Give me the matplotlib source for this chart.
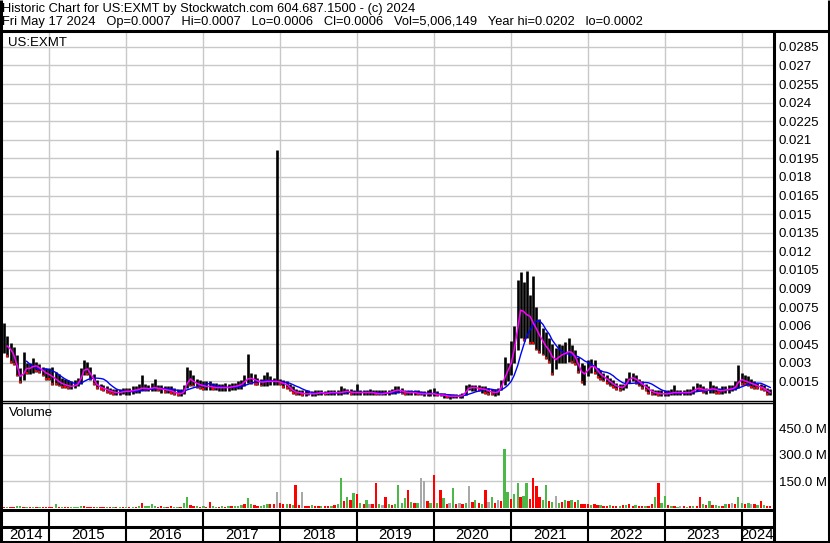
import pandas as pd
import matplotlib
matplotlib.use('Agg')
import matplotlib.pyplot as plt
from matplotlib.lines import Line2D

plt.rcParams['font.family'] = ['Liberation Sans', 'DejaVu Sans']

# semi-monthly bars, Jun 2014 .. May 2024
dates = pd.date_range('2014-06-01', '2024-05-15', freq='SMS')

hi_2014 = [.0062, .0052, .0046, .0043, .0036, .0026, .0039, .0030, .0030, .0034, .0031, .0029, .0027, .0026]
lo_2014 = [.0038, .0035, .0030, .0028, .0019, .0014, .0016, .0021, .0021, .0022, .0023, .0022, .0019, .0016]
cl_2014 = [.0045, .0042, .0040, .0034, .0022, .0016, .0026, .0025, .0026, .0028, .0027, .0025, .0023, .0021]

hi_2015 = [.0026, .0027, .0023, .0021, .0018, .0017, .0016, .0015, .0016, .0018, .0026, .0032,
           .0031, .0027, .0021, .0016, .0013, .0012, .0011, .0010, .0009, .0009, .0009, .0010]
lo_2015 = [.0016, .0012, .0012, .0011, .0010, .0010, .0009, .0009, .0010, .0011, .0013, .0020,
           .0020, .0016, .0012, .0009, .0008, .0007, .0006, .0005, .0004, .0004, .0004, .0005]
cl_2015 = [.0020, .0018, .0016, .0014, .0013, .0012, .0011, .0011, .0012, .0013, .0022, .0026,
           .0024, .0019, .0014, .0011, .0010, .0009, .0008, .0007, .0006, .0006, .0006, .0007]

hi_2016 = [.0010, .0010, .0011, .0011, .0013, .0020, .0013, .0012, .0014, .0017, .0012, .0012,
           .0011, .0011, .0011, .0010, .0009, .0009, .0012, .0027, .0024, .0020, .0017, .0016]
lo_2016 = [.0004, .0004, .0005, .0006, .0006, .0007, .0007, .0007, .0007, .0007, .0007, .0006,
           .0006, .0006, .0005, .0004, .0003, .0003, .0005, .0010, .0011, .0011, .0010, .0009]
cl_2016 = [.0007, .0007, .0008, .0008, .0009, .0010, .0009, .0009, .0010, .0010, .0009, .0009,
           .0008, .0008, .0007, .0006, .0005, .0005, .0008, .0018, .0016, .0014, .0013, .0012]

hi_2017 = [.0015, .0015, .0015, .0014, .0014, .0013, .0013, .0014, .0013, .0014, .0014, .0015,
           .0016, .0020, .0037, .0022, .0021, .0018, .0017, .0020, .0023, .0019, .0018, .0202]
lo_2017 = [.0008, .0008, .0008, .0008, .0008, .0007, .0007, .0007, .0007, .0008, .0008, .0009,
           .0009, .0011, .0014, .0013, .0012, .0012, .0011, .0011, .0011, .0012, .0012, .0012]
cl_2017 = [.0011, .0011, .0011, .0010, .0010, .0010, .0010, .0010, .0010, .0011, .0011, .0012,
           .0013, .0016, .0018, .0017, .0016, .0015, .0014, .0015, .0015, .0015, .0015, .0015]

hi_2018 = [.0017, .0016, .0015, .0013, .0011, .0009, .0008, .0008, .0008, .0008, .0007, .0008,
           .0008, .0008, .0007, .0008, .0008, .0008, .0008, .0011, .0010, .0009, .0009, .0008]
lo_2018 = [.0012, .0010, .0009, .0007, .0005, .0004, .0004, .0003, .0003, .0004, .0003, .0003,
           .0004, .0004, .0004, .0004, .0004, .0004, .0004, .0004, .0005, .0005, .0004, .0004]
cl_2018 = [.0014, .0013, .0012, .0009, .0007, .0006, .0006, .0005, .0005, .0005, .0005, .0005,
           .0006, .0006, .0005, .0006, .0006, .0006, .0006, .0006, .0007, .0007, .0006, .0006]

hi_2019 = [.0013, .0008, .0008, .0008, .0009, .0008, .0008, .0008, .0008, .0008, .0008, .0009,
           .0011, .0011, .0010, .0008, .0008, .0008, .0008, .0008, .0007, .0007, .0008, .0009]
lo_2019 = [.0004, .0004, .0004, .0004, .0004, .0004, .0004, .0004, .0004, .0004, .0004, .0005,
           .0005, .0006, .0005, .0004, .0004, .0004, .0004, .0004, .0004, .0003, .0003, .0003]
cl_2019 = [.0006, .0006, .0006, .0006, .0006, .0006, .0005, .0005, .0005, .0006, .0006, .0007,
           .0008, .0008, .0007, .0006, .0006, .0006, .0006, .0005, .0005, .0005, .0005, .0005]

hi_2020 = [.0010, .0007, .0006, .0006, .0005, .0005, .0005, .0005, .0005, .0006, .0012, .0013,
           .0012, .0012, .0012, .0011, .0011, .0010, .0009, .0009, .0010, .0016, .0035, .0030]
lo_2020 = [.0003, .0003, .0003, .0002, .0002, .0001, .0002, .0002, .0002, .0002, .0004, .0008,
           .0007, .0007, .0007, .0006, .0005, .0004, .0004, .0003, .0004, .0008, .0012, .0015]
cl_2020 = [.0005, .0004, .0004, .0004, .0003, .0003, .0003, .0003, .0003, .0004, .0009, .0010,
           .0010, .0010, .0009, .0009, .0008, .0007, .0006, .0006, .0007, .0013, .0022, .0024]

hi_2021 = [.0048, .0060, .0097, .0103, .0095, .0104, .0085, .0100, .0075, .0065, .0058, .0055,
           .0050, .0045, .0042, .0045, .0044, .0047, .0050, .0044, .0040, .0035, .0030, .0028]
lo_2021 = [.0020, .0030, .0040, .0050, .0048, .0050, .0045, .0045, .0040, .0038, .0036, .0033,
           .0030, .0020, .0025, .0030, .0030, .0030, .0031, .0030, .0028, .0022, .0014, .0012]
cl_2021 = [.0035, .0045, .0070, .0075, .0068, .0070, .0065, .0060, .0055, .0050, .0045, .0042,
           .0038, .0032, .0033, .0036, .0037, .0038, .0040, .0037, .0033, .0026, .0020, .0022]

hi_2022 = [.0032, .0033, .0032, .0026, .0024, .0022, .0020, .0018, .0016, .0014, .0013, .0013,
           .0018, .0023, .0022, .0020, .0017, .0015, .0013, .0011, .0009, .0008, .0008, .0008]
lo_2022 = [.0019, .0022, .0021, .0018, .0016, .0015, .0013, .0011, .0010, .0008, .0007, .0008,
           .0010, .0014, .0015, .0013, .0011, .0009, .0007, .0005, .0004, .0004, .0003, .0003]
cl_2022 = [.0026, .0028, .0026, .0022, .0020, .0018, .0016, .0014, .0012, .0011, .0010, .0010,
           .0015, .0018, .0018, .0016, .0014, .0012, .0010, .0008, .0006, .0006, .0005, .0005]

hi_2023 = [.0008, .0008, .0009, .0012, .0008, .0008, .0008, .0009, .0009, .0011, .0014, .0013,
           .0011, .0010, .0015, .0012, .0011, .0010, .0011, .0011, .0012, .0012, .0015, .0028]
lo_2023 = [.0003, .0003, .0004, .0004, .0004, .0004, .0004, .0004, .0004, .0005, .0007, .0007,
           .0006, .0005, .0006, .0006, .0005, .0005, .0005, .0006, .0006, .0007, .0008, .0010]
cl_2023 = [.0005, .0005, .0006, .0006, .0006, .0006, .0006, .0006, .0006, .0008, .0010, .0009,
           .0008, .0008, .0009, .0009, .0008, .0007, .0008, .0008, .0009, .0009, .0011, .0017]

hi_2024 = [.0022, .0020, .0019, .0017, .0015, .0014, .0013, .0012, .0010, .0009]
lo_2024 = [.0012, .0012, .0011, .0010, .0009, .0009, .0008, .0007, .0004, .0004]
cl_2024 = [.0016, .0015, .0014, .0013, .0012, .0011, .0010, .0009, .0006, .0006]

# volume in millions, direction: g = up, r = down, n = unchanged
vol_2014 = [8, 6, 7, 5, 9, 13, 6, 7, 5, 8, 6, 7, 5, 6]
vol_2015 = [7, 6, 24, 6, 5, 4, 6, 5, 4, 5, 12, 9, 7, 6, 5, 4, 5, 4, 6, 5, 4, 5, 4, 5]
vol_2016 = [5, 6, 8, 7, 10, 28, 9, 12, 20, 10, 8, 9, 7, 6, 10, 8, 6, 7, 30, 65, 18, 12, 9, 8]
vol_2017 = [10, 8, 32, 9, 8, 7, 10, 8, 9, 12, 10, 14, 18, 22, 58, 20, 15, 14, 12, 18, 22, 25, 20, 88]
vol_2018 = [30, 25, 22, 20, 18, 131, 15, 93, 14, 12, 15, 13, 10, 12, 14, 12, 10, 15, 20, 172, 40, 65, 47, 84]
vol_2019 = [78, 30, 25, 47, 20, 25, 143, 22, 18, 60, 20, 18, 25, 131, 30, 56, 103, 35, 28, 30, 172, 150, 40, 30]
vol_2020 = [187, 30, 103, 56, 25, 30, 112, 20, 28, 25, 30, 125, 35, 47, 30, 25, 103, 35, 65, 30, 47, 40, 336, 93]
vol_2021 = [50, 80, 143, 60, 70, 143, 50, 168, 125, 65, 45, 131, 40, 35, 69, 30, 35, 47, 40, 47, 35, 45, 25, 20]
vol_2022 = [20, 18, 22, 15, 18, 14, 12, 15, 10, 12, 14, 18, 15, 20, 12, 15, 10, 12, 14, 10, 25, 65, 143, 30]
vol_2023 = [69, 15, 12, 10, 8, 10, 12, 8, 10, 9, 12, 65, 20, 15, 37, 18, 15, 12, 14, 20, 22, 28, 25, 60]
vol_2024 = [30, 25, 28, 20, 22, 18, 37, 15, 12, 10]
vol_dir = ("rgrrggrgrgrgrr" "rrgrgrrggggrrrrgrrgrgrgr" "grgrgrggggrrgrrggrggrrgr"
           "grrggrgrgrgggrggrrgggrrn" "rrgrgrrnrrgrrgrrgrggrgrg" "rgrgnrrgnrgrggggrgrgnnrg"
           "rgrgrngrnrgnrgrgrngrnrgg" "rggrggrrrrggrgngrgrgrgrr" "rgrrgrrgrrgrgrrgrrgrrgrg"
           "grgrgnrgrgrrgrgrggrgrnrg" "grgnrgrgrr")

years = list(range(2014, 2025))
hi = sum([hi_2014, hi_2015, hi_2016, hi_2017, hi_2018, hi_2019, hi_2020, hi_2021, hi_2022, hi_2023, hi_2024], [])
lo = sum([lo_2014, lo_2015, lo_2016, lo_2017, lo_2018, lo_2019, lo_2020, lo_2021, lo_2022, lo_2023, lo_2024], [])
cl = sum([cl_2014, cl_2015, cl_2016, cl_2017, cl_2018, cl_2019, cl_2020, cl_2021, cl_2022, cl_2023, cl_2024], [])
vol = sum([vol_2014, vol_2015, vol_2016, vol_2017, vol_2018, vol_2019, vol_2020, vol_2021, vol_2022, vol_2023, vol_2024], [])

df = pd.DataFrame({'hi': hi, 'lo': lo, 'cl': cl, 'vol': vol, 'dir': list(vol_dir)}, index=dates)
ma_short = df['cl'].rolling(2).mean()
ma_long = df['cl'].rolling(8).mean()

W, H = 830, 543
fig = plt.figure(figsize=(W / 100, H / 100), dpi=100)

def box(x0, y0, x1, y1):
    return [x0 / W, 1 - y1 / H, (x1 - x0) / W, (y1 - y0) / H]

ax = fig.add_axes(box(3, 32, 773, 400))
axv = fig.add_axes(box(3, 403, 773, 508))
axe = fig.add_axes(box(3, 510, 773, 527))
axy = fig.add_axes(box(3, 527, 773, 541))

x0, x1 = pd.Timestamp('2014-05-26'), pd.Timestamp('2024-05-28')
bounds = [pd.Timestamp(f'{y}-01-01') for y in years[1:]]
grid_c = '#c8c8c8'
fs = 9.5

for a in (ax, axv, axe, axy):
    a.set_xlim(x0, x1)
    for s in a.spines.values():
        s.set_visible(False)
    a.set_xticks(bounds)
    a.tick_params(axis='x', length=0, labelbottom=False)

# price panel
ax.set_ylim(0, 0.0297)
pticks = [round(0.0015 * k, 4) for k in range(1, 20)]
ax.set_yticks(pticks)
ax.set_yticklabels([f'{v:g}' for v in pticks])
ax.yaxis.tick_right()
ax.tick_params(axis='y', length=0, pad=4, labelsize=fs)
ax.grid(True, color=grid_c, lw=1)
ax.set_axisbelow(True)
ax.vlines(df.index, df['lo'], df['hi'], color='black', lw=1.9, zorder=3)
down = df['cl'] < df['cl'].shift(1)
ax.vlines(df.index[down], df['lo'][down], df['lo'][down] + 0.00015, color='red', lw=1.6, zorder=4)
ax.plot(df.index, ma_long, color='#0000ff', lw=1.0, zorder=5)
ax.plot(df.index, ma_short, color='#ff00ff', lw=1.1, zorder=6)
ax.text(5 / 770, 1 - 11 / 368, 'US:EXMT', transform=ax.transAxes, fontsize=fs, va='center')

# volume panel
axv.set_ylim(0, 594e6)
vticks = [150e6, 300e6, 450e6]
axv.set_yticks(vticks)
axv.set_yticklabels(['150.0 M', '300.0 M', '450.0 M'])
axv.yaxis.tick_right()
axv.tick_params(axis='y', length=0, pad=4, labelsize=fs)
axv.grid(True, color=grid_c, lw=1)
axv.set_axisbelow(True)
vcol = {'g': '#4cb848', 'r': '#ff0000', 'n': '#a8a8a8'}
axv.bar(df.index, df['vol'] * 1e6, width=11, color=[vcol[d] for d in df['dir']], zorder=3)
axv.text(6 / 770, 1 - 10 / 105, 'Volume', transform=axv.transAxes, fontsize=fs, va='center')

for a in (axe, axy):
    a.set_ylim(0, 1)
    a.set_yticks([])
    for b in bounds:
        a.axvline(b, color='black', lw=1.5)

edges = [x0] + bounds + [x1]
for y, a_, b_ in zip(years, edges[:-1], edges[1:]):
    axy.text(a_ + (b_ - a_) / 2, 0.45, str(y), ha='center', va='center', fontsize=10.8,
             transform=axy.get_xaxis_transform())

# header
fig.text(2 / W, 1 - 9 / H, 'Historic Chart for US:EXMT by Stockwatch.com 604.687.1500 - (c) 2024',
         fontsize=9.3, va='center')
fig.text(2 / W, 1 - 22 / H,
         'Fri May 17 2024   Op=0.0007   Hi=0.0007   Lo=0.0006   Cl=0.0006   Vol=5,006,149   Year hi=0.0202   lo=0.0002',
         fontsize=9.3, va='center')

def line(xa, ya, xb, yb, lw):
    fig.add_artist(Line2D([xa / W, xb / W], [1 - ya / H, 1 - yb / H], color='black', lw=lw,
                          transform=fig.transFigure, solid_capstyle='butt'))

line(0, 31, W, 31, 2.2)
line(774, 31, 774, H, 2.2)
line(0, 400.5, 774, 400.5, 1.0)
line(0, 403, 774, 403, 1.0)
line(0, 509.5, 774, 509.5, 2.2)
line(0, 527, 774, 527, 2.2)
line(0, H - 1, W, H - 1, 2.2)
line(1, 0, 1, H, 2.2)
line(W - 1, 0, W - 1, H, 2.2)

fig.savefig('out.png', dpi=100)
